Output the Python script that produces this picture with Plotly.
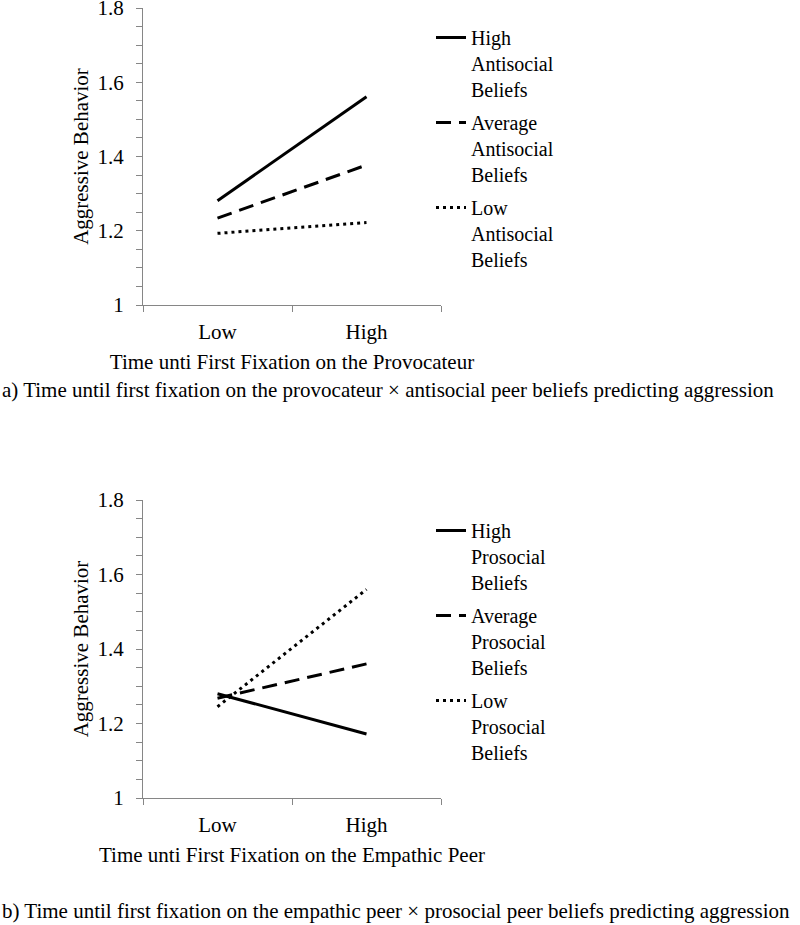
import plotly.graph_objects as go

# categories on the x axis
time_levels = ["Low", "High"]

# panel a) antisocial peer beliefs
anti_high = [1.281, 1.561]
anti_avg = [1.234, 1.377]
anti_low = [1.193, 1.222]

# panel b) prosocial peer beliefs
pro_high = [1.280, 1.172]
pro_avg = [1.268, 1.360]
pro_low = [1.245, 1.560]

y_ticks = [1, 1.2, 1.4, 1.6, 1.8]
y_labels = ["1", "1.2", "1.4", "1.6", "1.8"]

caption_a = "a) Time until first fixation on the provocateur × antisocial peer beliefs predicting aggression"
caption_b = "b) Time until first fixation on the empathic peer × prosocial peer beliefs predicting aggression"

FONT = "Liberation Serif, Times New Roman, serif"
FS = 21
W, H = 800, 925


def px_x(p):
    return p / W


def px_y(p):
    return 1 - p / H


styles = [
    dict(color="black", width=3, dash="solid"),
    dict(color="black", width=3, dash="15px,8px"),
    dict(color="black", width=3, dash="3px,4px"),
]

fig = go.Figure()

panel_a = [("High<br>Antisocial<br>Beliefs", anti_high),
           ("Average<br>Antisocial<br>Beliefs", anti_avg),
           ("Low<br>Antisocial<br>Beliefs", anti_low)]
panel_b = [("High<br>Prosocial<br>Beliefs", pro_high),
           ("Average<br>Prosocial<br>Beliefs", pro_avg),
           ("Low<br>Prosocial<br>Beliefs", pro_low)]

for i, (name, vals) in enumerate(panel_a):
    fig.add_trace(go.Scatter(x=time_levels, y=vals, mode="lines", name=name,
                             line=styles[i], xaxis="x", yaxis="y",
                             legend="legend", legendgroup=f"a{i}"))
for i, (name, vals) in enumerate(panel_b):
    fig.add_trace(go.Scatter(x=time_levels, y=vals, mode="lines", name=name,
                             line=styles[i], xaxis="x2", yaxis="y2",
                             legend="legend2", legendgroup=f"b{i}"))

x_dom = [px_x(143), px_x(441)]
txt = dict(family=FONT, size=FS, color="black")

xaxis_common = dict(
    type="category", range=[-0.5, 1.5], domain=x_dom,
    showline=True, linecolor="#868686", linewidth=1,
    ticks="outside", ticklen=6, tickcolor="#868686", tickson="boundaries",
    showgrid=False, zeroline=False, ticklabelstandoff=8,
    tickfont=txt, automargin=False, ticklabeloverflow="allow",
)
yaxis_common = dict(
    range=[1, 1.8], tickvals=y_ticks, ticktext=y_labels,
    showline=True, linecolor="#868686", linewidth=1,
    ticks="outside", ticklen=6, tickcolor="#868686",
    minor=dict(dtick=0.05, tick0=1, ticks="outside", ticklen=6, tickcolor="#868686", showgrid=False),
    showgrid=False, zeroline=False, ticklabelstandoff=8,
    tickfont=txt, ticklabeloverflow="allow",
    title=dict(text="Aggressive Behavior", font=txt, standoff=3),
    automargin=False,
)

legend_common = dict(
    font=dict(family=FONT, size=20, color="black"),
    bgcolor="rgba(0,0,0,0)", valign="top", tracegroupgap=4,
    xanchor="left", yanchor="top", itemclick=False,
)

fig.update_layout(
    width=W, height=H,
    margin=dict(l=0, r=0, t=0, b=0),
    paper_bgcolor="white", plot_bgcolor="white",
    font=txt,
    xaxis=dict(xaxis_common, anchor="y",
               title=dict(text="Time unti First Fixation on the Provocateur", font=txt, standoff=11)),
    yaxis=dict(yaxis_common, anchor="x", domain=[px_y(305), px_y(8)]),
    xaxis2=dict(xaxis_common, anchor="y2",
                title=dict(text="Time unti First Fixation on the Empathic Peer", font=txt, standoff=11)),
    yaxis2=dict(yaxis_common, anchor="x2", domain=[px_y(798), px_y(500)]),
    legend=dict(legend_common, x=px_x(431), y=px_y(18)),
    legend2=dict(legend_common, x=px_x(431), y=px_y(511)),
    showlegend=True,
    annotations=[
        dict(text=caption_a, x=0, y=px_y(390), xref="paper", yref="paper",
             xanchor="left", yanchor="middle", showarrow=False, font=txt),
        dict(text=caption_b, x=0, y=px_y(911), xref="paper", yref="paper",
             xanchor="left", yanchor="middle", showarrow=False, font=txt),
    ],
)

# drop the default 8px page margin so the figure fills the window
fig.write_html("out.html", config={"displayModeBar": False},
               post_script="document.body.style.margin = '0';")
